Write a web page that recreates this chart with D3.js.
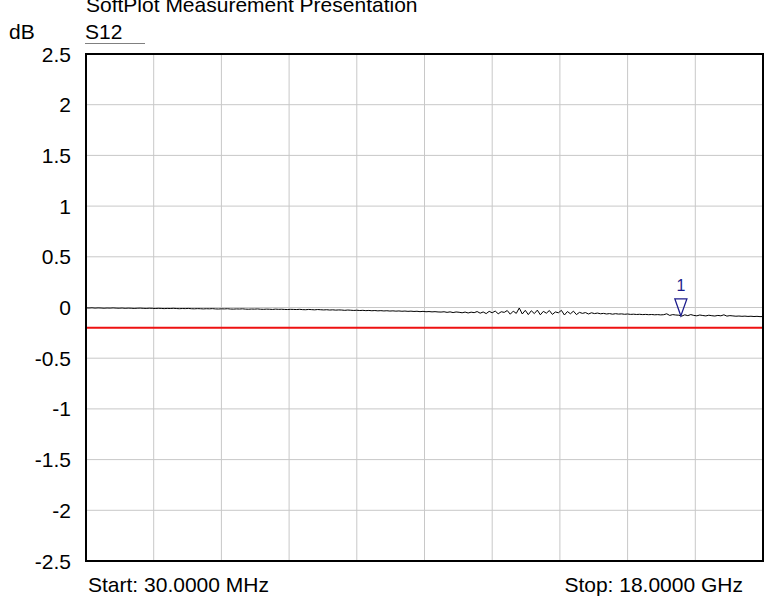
<!DOCTYPE html>
<html>
<head>
<meta charset="utf-8">
<script src="https://cdn.jsdelivr.net/npm/d3@7"></script>
<style>
  body { margin: 0; background: #fff; }
  svg { font-family: "Liberation Sans", Arial, sans-serif; }
</style>
</head>
<body>
<svg width="768" height="605"></svg>
<script>
// sweep limits in GHz
const startFreq = 0.03;
const stopFreq = 18.0;

// measured S12 trace, dB, evenly spaced points across the sweep
const s12 = [
  -0.004,-0.005,-0.003,-0.006,-0.004,-0.005,-0.007,-0.005,-0.006,-0.004,
  -0.006,-0.007,-0.005,-0.008,-0.006,-0.007,-0.009,-0.007,-0.006,-0.008,
  -0.009,-0.007,-0.008,-0.010,-0.008,-0.009,-0.011,-0.009,-0.010,-0.008,
  -0.010,-0.012,-0.010,-0.011,-0.009,-0.012,-0.013,-0.011,-0.012,-0.014,
  -0.012,-0.013,-0.011,-0.014,-0.015,-0.013,-0.014,-0.012,-0.015,-0.016,
  -0.014,-0.015,-0.013,-0.016,-0.017,-0.015,-0.016,-0.014,-0.017,-0.018,
  -0.016,-0.017,-0.019,-0.016,-0.018,-0.017,-0.019,-0.020,-0.018,-0.019,
  -0.020,-0.018,-0.021,-0.022,-0.019,-0.021,-0.023,-0.020,-0.022,-0.024,
  -0.022,-0.025,-0.023,-0.026,-0.024,-0.025,-0.028,-0.025,-0.027,-0.029,
  -0.027,-0.030,-0.028,-0.031,-0.029,-0.032,-0.030,-0.033,-0.031,-0.034,
  -0.032,-0.035,-0.033,-0.036,-0.034,-0.037,-0.035,-0.038,-0.036,-0.039,
  -0.037,-0.041,-0.038,-0.042,-0.040,-0.043,-0.041,-0.044,-0.045,-0.042,
  -0.048,-0.043,-0.050,-0.044,-0.047,-0.052,-0.045,-0.054,-0.046,-0.051,
  -0.040,-0.056,-0.044,-0.060,-0.038,-0.052,-0.035,-0.062,-0.042,-0.048,
  -0.030,-0.066,-0.036,-0.058,-0.005,-0.064,-0.028,-0.070,-0.032,-0.060,
  -0.026,-0.072,-0.038,-0.056,-0.030,-0.068,-0.044,-0.052,-0.028,-0.074,
  -0.040,-0.062,-0.036,-0.070,-0.048,-0.058,-0.050,-0.064,-0.052,-0.060,
  -0.055,-0.062,-0.058,-0.064,-0.060,-0.066,-0.061,-0.065,-0.063,-0.067,
  -0.064,-0.068,-0.066,-0.069,-0.067,-0.070,-0.068,-0.071,-0.069,-0.072,
  -0.070,-0.073,-0.071,-0.062,-0.078,-0.070,-0.074,-0.076,-0.085,-0.072,
  -0.080,-0.070,-0.078,-0.082,-0.074,-0.079,-0.083,-0.076,-0.081,-0.084,
  -0.078,-0.082,-0.072,-0.085,-0.080,-0.083,-0.086,-0.084,-0.087,-0.085,
  -0.088,-0.086,-0.089,-0.087,-0.090,-0.089
];

const limitLine = -0.2;
const markerFreq = [15.82];
const markerVal = [-0.083];
const markerLabel = ["1"];

const yTicks = [2.5, 2, 1.5, 1, 0.5, 0, -0.5, -1, -1.5, -2, -2.5];

const svg = d3.select("svg");
const plotL = 86, plotR = 763, plotT = 54, plotB = 561;
const fs = 21;

const x = d3.scaleLinear().domain([startFreq, stopFreq]).range([plotL, plotR]);
const y = d3.scaleLinear().domain([-2.5, 2.5]).range([plotB, plotT]);

// title, clipped at the top edge like the original
svg.append("text")
  .attr("x", 86).attr("y", 12)
  .attr("font-size", fs)
  .text("SoftPlot Measurement Presentation");

svg.append("text")
  .attr("x", 9).attr("y", 39)
  .attr("font-size", fs)
  .text("dB");

svg.append("text")
  .attr("x", 85).attr("y", 39)
  .attr("font-size", fs)
  .text("S12");

svg.append("line")
  .attr("x1", 85).attr("x2", 145).attr("y1", 43.5).attr("y2", 43.5)
  .attr("stroke", "#808080").attr("stroke-width", 1);

// grid
const grid = svg.append("g");
const xStep = (stopFreq - startFreq) / 10;
const xGrid = d3.range(1, 10).map(i => startFreq + i * xStep);
grid.selectAll("line.v")
  .data(xGrid)
  .enter().append("line")
  .attr("x1", d => x(d)).attr("x2", d => x(d))
  .attr("y1", plotT).attr("y2", plotB)
  .attr("stroke", "#c8c8c8").attr("stroke-width", 1);

grid.selectAll("line.h")
  .data(yTicks.slice(1, -1))
  .enter().append("line")
  .attr("x1", plotL).attr("x2", plotR)
  .attr("y1", d => y(d)).attr("y2", d => y(d))
  .attr("stroke", "#c8c8c8").attr("stroke-width", 1);

// y tick labels
svg.append("g").selectAll("text")
  .data(yTicks)
  .enter().append("text")
  .attr("x", 71)
  .attr("y", d => y(d) + 7.5)
  .attr("text-anchor", "end")
  .attr("font-size", fs)
  .text(d => d);

// limit line
svg.append("line")
  .attr("x1", plotL).attr("x2", plotR)
  .attr("y1", y(limitLine)).attr("y2", y(limitLine))
  .attr("stroke", "#ee1111").attr("stroke-width", 2);

// trace
const step = (stopFreq - startFreq) / (s12.length - 1);
const line = d3.line()
  .x((d, i) => x(startFreq + i * step))
  .y(d => y(d));

svg.append("path")
  .datum(s12)
  .attr("d", line)
  .attr("fill", "none")
  .attr("stroke", "#000")
  .attr("stroke-width", 1);

// marker
const mk = svg.append("g").selectAll("g")
  .data(markerFreq.map((f, i) => ({ f, v: markerVal[i], label: markerLabel[i] })))
  .enter().append("g")
  .attr("transform", d => `translate(${x(d.f)},${y(d.v)})`);

mk.append("path")
  .attr("d", "M0,0L-6,-17L6,-17Z")
  .attr("fill", "none")
  .attr("stroke", "#1c1c8c")
  .attr("stroke-width", 1.3);

mk.append("text")
  .attr("y", -25)
  .attr("text-anchor", "middle")
  .attr("font-size", 16)
  .attr("fill", "#1c1c8c")
  .text(d => d.label);

// frame
svg.append("rect")
  .attr("x", plotL).attr("y", plotT)
  .attr("width", plotR - plotL).attr("height", plotB - plotT)
  .attr("fill", "none")
  .attr("stroke", "#000").attr("stroke-width", 2);

// footer
svg.append("text")
  .attr("x", 88).attr("y", 592)
  .attr("font-size", fs)
  .text("Start: 30.0000 MHz");

svg.append("text")
  .attr("x", 743).attr("y", 592)
  .attr("text-anchor", "end")
  .attr("font-size", fs)
  .text("Stop: 18.0000 GHz");
</script>
</body>
</html>
